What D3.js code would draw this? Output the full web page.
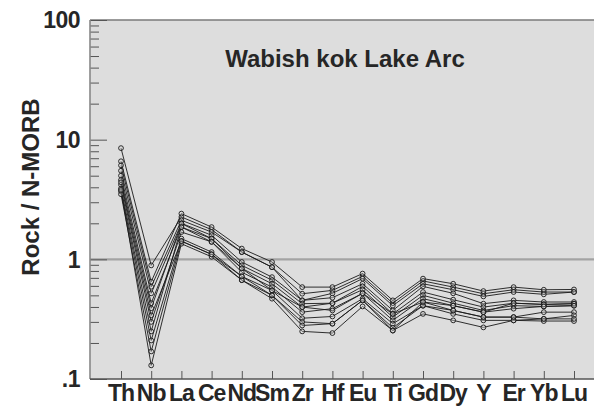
<!DOCTYPE html>
<html><head><meta charset="utf-8">
<script src="https://cdn.jsdelivr.net/npm/d3@7"></script>
<style>html,body{margin:0;padding:0;background:#fff}svg{display:block}</style>
</head><body>
<script>
const elements = ["Th","Nb","La","Ce","Nd","Sm","Zr","Hf","Eu","Ti","Gd","Dy","Y","Er","Yb","Lu"];
const yTickValues = [0.1, 1, 10, 100];
const yTickLabels = [".1", "1", "10", "100"];
const title = "Wabish kok Lake Arc";
const yTitle = "Rock / N-MORB";

const s1  = [8.5, 0.89, 2.26, 1.77, 1.15, 0.86, 0.516, 0.55, 0.72, 0.43, 0.66, 0.586, 0.516, 0.557, 0.533, 0.533];
const s2  = [6.6, 0.65, 2.41, 1.86, 1.23, 0.95, 0.586, 0.586, 0.76, 0.454, 0.69, 0.625, 0.543, 0.586, 0.557, 0.56];
const s3  = [6.1, 0.59, 2.12, 1.69, 1.15, 0.86, 0.454, 0.52, 0.69, 0.41, 0.625, 0.557, 0.49, 0.533, 0.51, 0.533];
const s4  = [5.5, 0.52, 2.0, 1.59, 0.95, 0.71, 0.454, 0.478, 0.625, 0.374, 0.594, 0.52, 0.426, 0.454, 0.44, 0.44];
const s5  = [5.0, 0.43, 1.86, 1.49, 0.89, 0.67, 0.426, 0.43, 0.594, 0.35, 0.533, 0.46, 0.399, 0.43, 0.42, 0.426];
const s6  = [4.6, 0.39, 1.99, 1.49, 0.84, 0.625, 0.399, 0.43, 0.557, 0.329, 0.5, 0.43, 0.374, 0.41, 0.404, 0.41];
const s7  = [4.2, 0.30, 1.69, 1.40, 0.78, 0.586, 0.362, 0.387, 0.52, 0.309, 0.469, 0.41, 0.362, 0.43, 0.42, 0.426];
const s8  = [3.9, 0.25, 1.86, 1.40, 0.84, 0.55, 0.399, 0.374, 0.52, 0.35, 0.44, 0.41, 0.362, 0.387, 0.404, 0.41];
const s9  = [3.7, 0.21, 1.49, 1.15, 0.72, 0.55, 0.322, 0.333, 0.469, 0.29, 0.41, 0.374, 0.329, 0.329, 0.362, 0.362];
const s10 = [3.5, 0.17, 1.42, 1.10, 0.67, 0.5, 0.30, 0.29, 0.454, 0.268, 0.41, 0.35, 0.309, 0.309, 0.318, 0.34];
const s11 = [3.8, 0.13, 1.35, 1.05, 0.67, 0.469, 0.25, 0.242, 0.404, 0.254, 0.35, 0.309, 0.27, 0.309, 0.305, 0.305];
const s12 = [4.4, 0.34, 1.42, 1.10, 0.72, 0.5, 0.28, 0.29, 0.454, 0.254, 0.44, 0.374, 0.329, 0.329, 0.318, 0.318];
const series = [s1,s2,s3,s4,s5,s6,s7,s8,s9,s10,s11,s12];

const W = 594, H = 406;
const L = 90, R = 594, T = 20, B = 379;
const FONT = "Arial, 'Liberation Sans', sans-serif";
const TXT = "#262626";

const svg = d3.select("body").append("svg").attr("width", W).attr("height", H);

const x = d3.scalePoint().domain(elements).range([121, 574]);
const y = d3.scaleLog().domain([0.1, 100]).range([B, T]);

svg.append("rect").attr("x", L).attr("y", T).attr("width", R - L).attr("height", B - T).attr("fill", "#dddddd");

svg.append("line").attr("x1", L).attr("x2", R).attr("y1", y(1)).attr("y2", y(1))
  .attr("stroke", "#a3a3a3").attr("stroke-width", 2.2);

svg.append("line").attr("x1", L).attr("x2", R).attr("y1", T).attr("y2", T)
  .attr("stroke", "#7a7a7a").attr("stroke-width", 1.6);

const minor = [];
for (let d = 0.1; d < 100; d *= 10) for (let k = 2; k <= 9; k++) minor.push(+(d * k).toPrecision(3));
const yAxisMinor = d3.axisRight(y).tickValues(minor).tickSize(9).tickFormat("");
const yAxisMajor = d3.axisRight(y).tickValues(yTickValues).tickSize(17).tickFormat("");
[yAxisMinor, yAxisMajor].forEach(ax => {
  const g = svg.append("g").attr("transform", `translate(${L},0)`).call(ax);
  g.select(".domain").remove();
  g.selectAll("line").attr("stroke", "#555").attr("stroke-width", 1);
});
svg.append("line").attr("x1", L).attr("x2", L).attr("y1", T).attr("y2", B)
  .attr("stroke", "#888").attr("stroke-width", 1.6);

svg.append("g").selectAll("text").data(yTickValues).join("text")
  .attr("x", 80).attr("y", d => y(d)).attr("dy", "0.36em")
  .attr("text-anchor", "end").attr("font-family", FONT).attr("font-weight", "bold")
  .attr("font-size", 23).attr("letter-spacing", "-0.5px").attr("fill", TXT)
  .text((d, i) => yTickLabels[i]);

const xg = svg.append("g").attr("transform", `translate(0,${B})`)
  .call(d3.axisTop(x).tickSize(8).tickFormat(""));
xg.select(".domain").remove();
xg.selectAll("line").attr("stroke", "#555").attr("stroke-width", 1);
svg.append("line").attr("x1", L).attr("x2", R).attr("y1", B).attr("y2", B)
  .attr("stroke", "#555").attr("stroke-width", 1.6);

svg.append("g").selectAll("text").data(elements).join("text")
  .attr("x", d => x(d)).attr("y", 401)
  .attr("text-anchor", "middle").attr("font-family", FONT).attr("font-weight", "bold")
  .attr("font-size", 23).attr("letter-spacing", "-1px").attr("fill", TXT)
  .text(d => d);

const line = d3.line().x((d, i) => x(elements[i])).y(d => y(d));
const sg = svg.append("g");
series.forEach(s => {
  sg.append("path").attr("d", line(s)).attr("fill", "none")
    .attr("stroke", "#1a1a1a").attr("stroke-width", 0.9);
});
series.forEach(s => {
  sg.append("g").selectAll("circle").data(s).join("circle")
    .attr("cx", (d, i) => x(elements[i])).attr("cy", d => y(d)).attr("r", 2.4)
    .attr("fill", "#dddddd").attr("fill-opacity", 0.3).attr("stroke", "#1a1a1a").attr("stroke-width", 0.9);
});

svg.append("text").attr("x", 345).attr("y", 67).attr("text-anchor", "middle")
  .attr("font-family", FONT).attr("font-weight", "bold").attr("font-size", 24)
  .attr("fill", TXT).text(title);

svg.append("text").attr("transform", `translate(39,187) rotate(-90)`)
  .attr("text-anchor", "middle").attr("font-family", FONT).attr("font-weight", "bold")
  .attr("font-size", 24).attr("fill", TXT).text(yTitle);
</script>
</body></html>
